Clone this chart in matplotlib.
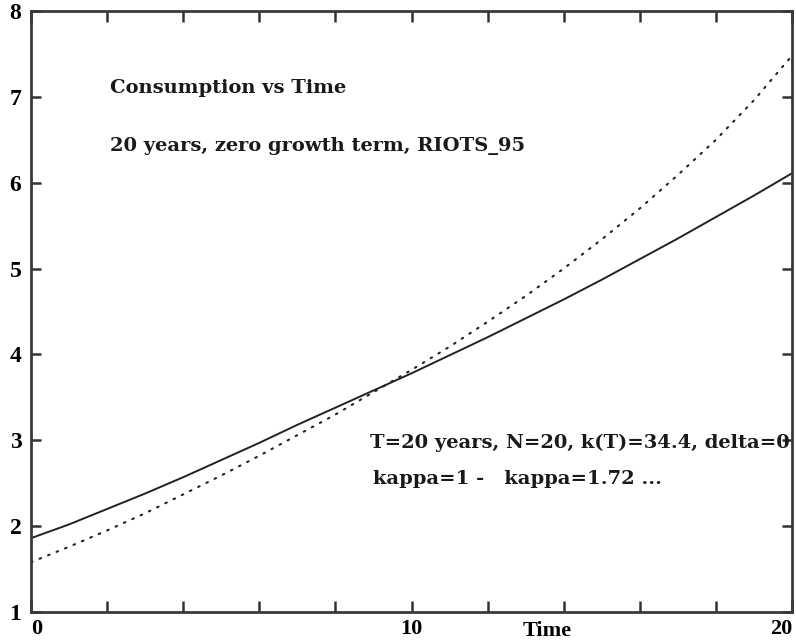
import numpy as np
import matplotlib
matplotlib.use("Agg")
import matplotlib.pyplot as plt

# consumption path, one value per year
years = list(range(0, 21))
c_kappa_1 = [1.86, 2.02, 2.20, 2.38, 2.57, 2.77, 2.97, 3.18, 3.38, 3.58, 3.78,
             3.99, 4.20, 4.42, 4.64, 4.87, 5.11, 5.35, 5.60, 5.85, 6.11]
c_kappa_172 = [1.58, 1.76, 1.95, 2.15, 2.37, 2.59, 2.82, 3.06, 3.30, 3.56, 3.82,
               4.09, 4.38, 4.68, 5.00, 5.34, 5.70, 6.09, 6.50, 6.96, 7.48]

x_ticks = [0, 10, 20]
x_minor = [2, 4, 6, 8, 12, 14, 16, 18]
y_ticks = [1, 2, 3, 4, 5, 6, 7, 8]

title_lines = ["Consumption vs Time", "20 years, zero growth term, RIOTS_95"]
info_lines = ["T=20 years, N=20, k(T)=34.4, delta=0",
              "kappa=1 -   kappa=1.72 ..."]

plt.rcParams['font.family'] = 'Liberation Serif'
plt.rcParams['font.weight'] = 'bold'

fig = plt.figure(figsize=(7.96, 6.44), dpi=100)
ax = fig.add_axes([0.039, 0.0497, 0.956, 0.9333])

ax.plot(years, c_kappa_1, color='#222222', linewidth=1.4)
ax.plot(years, c_kappa_172, color='#222222', linewidth=1.5,
        linestyle=(0, (0.8, 3.6)), dash_capstyle='round')

ax.set_xlim(0, 20)
ax.set_ylim(1, 8)

ax.set_xticks(x_ticks)
ax.set_xticks(x_minor, minor=True)
ax.set_yticks(y_ticks)
ax.tick_params(axis='both', which='both', direction='in', width=1.8,
               color='#333333', top=True, right=True)
ax.tick_params(axis='x', which='both', length=8, pad=5, labelsize=16)
ax.tick_params(axis='y', which='both', length=7, pad=7, labelsize=17)
xl = ax.get_xticklabels()
xl[-1].set_horizontalalignment('right')
xl[0].set_horizontalalignment('left')

for s in ax.spines.values():
    s.set_linewidth(2)
    s.set_color('#3a3a3a')

ax.set_xlabel('Time', fontsize=16, fontweight='bold')
ax.xaxis.set_label_coords(0.678, -0.032)
ax.xaxis.label.set_verticalalignment('center')

note_font = dict(family='DejaVu Serif', fontsize=14, fontweight='bold',
                 color='#1a1a1a', va='center', ha='left',
                 transform=ax.transAxes)
ax.text(0.104, 0.872, title_lines[0], **note_font)
ax.text(0.104, 0.776, title_lines[1], **note_font)
ax.text(0.445, 0.281, info_lines[0], **note_font)
ax.text(0.449, 0.221, info_lines[1], **note_font)

fig.savefig('out.png', dpi=100)
